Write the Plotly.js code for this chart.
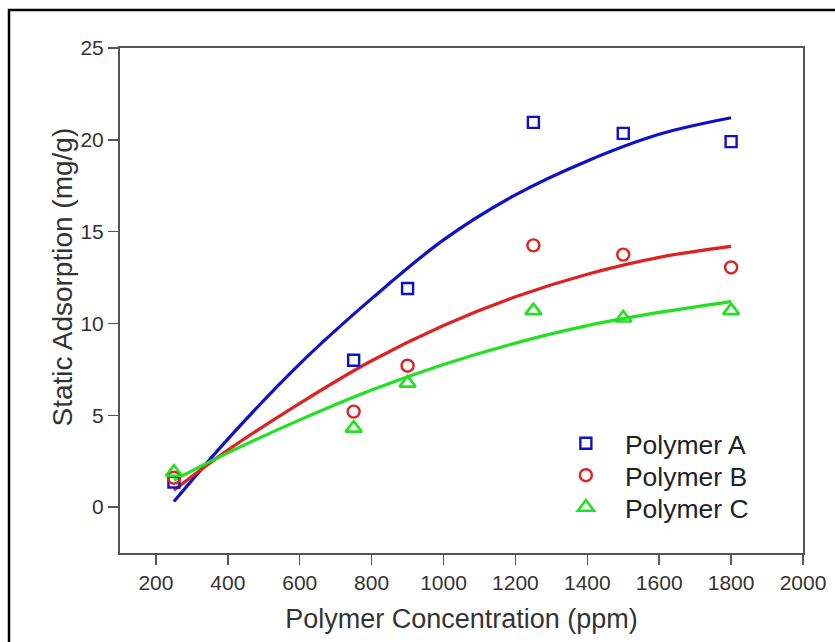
<!DOCTYPE html>
<html>
<head>
<meta charset="utf-8">
<script src="https://cdn.plot.ly/plotly-3.0.1.min.js"></script>
<style>html,body{margin:0;padding:0;background:#fff;}#chart{width:835px;height:642px;}</style>
</head>
<body>
<div id="chart"></div>
<script>
// Measured points
var concentration = [250, 750, 900, 1250, 1500, 1800];
var polymerA = [1.37, 8.0, 11.9, 20.95, 20.35, 19.9];
var polymerB = [1.6, 5.2, 7.7, 14.25, 13.75, 13.05];
var polymerC = [1.9, 4.3, 6.75, 10.7, 10.3, 10.7];

// Fitted curves
var fitX = [250, 400, 600, 800, 1000, 1200, 1400, 1600, 1800];
var fitA = [0.3, 3.7, 7.8, 11.35, 14.55, 17.0, 18.85, 20.3, 21.2];
var fitB = [0.92, 3.10, 5.65, 7.97, 9.89, 11.45, 12.68, 13.6, 14.2];
var fitC = [1.47, 2.95, 4.75, 6.38, 7.77, 8.93, 9.88, 10.6, 11.19];

var seriesNames = ['Polymer A', 'Polymer B', 'Polymer C'];
var xTicks = [200, 400, 600, 800, 1000, 1200, 1400, 1600, 1800, 2000];
var yTicks = [0, 5, 10, 15, 20, 25];
var xTitle = 'Polymer Concentration (ppm)';
var yTitle = 'Static Adsorption (mg/g)';

var blue = '#1010c8', red = '#dd2222', green = '#22e022';
var fontFam = 'Liberation Sans, Arial, sans-serif';

var traces = [
  {x: fitX, y: fitA, mode: 'lines', line: {color: blue, width: 3.2, shape: 'spline'}, showlegend: false, hoverinfo: 'skip'},
  {x: fitX, y: fitB, mode: 'lines', line: {color: red, width: 3.2, shape: 'spline'}, showlegend: false, hoverinfo: 'skip'},
  {x: fitX, y: fitC, mode: 'lines', line: {color: green, width: 3.2, shape: 'spline'}, showlegend: false, hoverinfo: 'skip'},
  {x: concentration, y: polymerA, mode: 'markers', name: seriesNames[0], legend: 'legend',
   marker: {symbol: 'square-open', size: 11, color: blue, line: {width: 2.4, color: blue}}},
  {x: concentration, y: polymerB, mode: 'markers', name: seriesNames[1], legend: 'legend2',
   marker: {symbol: 'circle-open', size: 12, color: red, line: {width: 2.4, color: red}}},
  {x: concentration, y: polymerC, mode: 'markers', name: seriesNames[2], legend: 'legend3',
   marker: {symbol: 'triangle-up-open', size: 14, color: green, line: {width: 2.6, color: green}}}
];

var axisCommon = {
  showgrid: false, zeroline: false, showline: true, linecolor: '#555', linewidth: 2,
  mirror: true, ticks: 'outside', ticklen: 10, tickwidth: 1.5, tickcolor: '#555',
  tickfont: {family: fontFam, size: 21, color: '#333'}
};

function legendAt(y) {
  return {x: 0.625, y: y, xanchor: 'left', yanchor: 'middle', bgcolor: 'rgba(0,0,0,0)',
    font: {family: fontFam, size: 26.5, color: '#222'}, itemwidth: 68};
}

var layout = {
  width: 835, height: 642,
  margin: {l: 120, r: 32, t: 48, b: 89},
  paper_bgcolor: '#fff', plot_bgcolor: '#fff',
  font: {family: fontFam, color: '#333'},
  xaxis: Object.assign({}, axisCommon, {
    range: [100, 2000], tickvals: xTicks, ticktext: xTicks.map(String),
    title: {text: xTitle, font: {family: fontFam, size: 27, color: '#333'}, standoff: 16}
  }),
  yaxis: Object.assign({}, axisCommon, {
    range: [-2.5, 25], tickvals: yTicks, ticktext: yTicks.map(String)
  }),
  legend: legendAt(0.2168),
  legend2: legendAt(0.1535),
  legend3: legendAt(0.0901),
  annotations: [{text: yTitle, textangle: -90, xref: 'paper', x: -57/683, xanchor: 'center',
    yref: 'y', y: 12.5, yanchor: 'middle', showarrow: false,
    font: {family: fontFam, size: 28, color: '#333'}}],
  shapes: [{type: 'rect', xref: 'paper', yref: 'paper', layer: 'above',
    x0: -111/683, x1: 1.2, y0: -0.3, y1: 1 + 38/505, line: {color: '#000', width: 2.5}}]
};

Plotly.newPlot('chart', traces, layout, {displayModeBar: false, staticPlot: true});
</script>
</body>
</html>
